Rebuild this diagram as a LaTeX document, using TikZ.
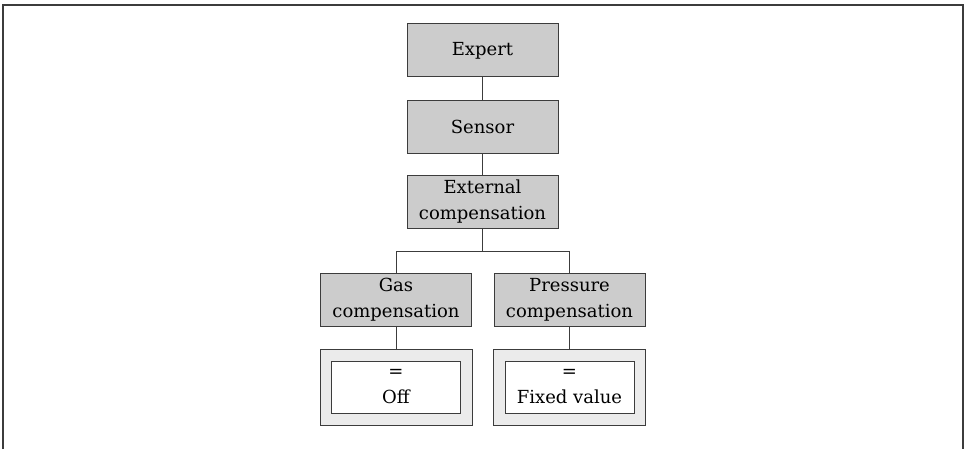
\documentclass[tikz,border=0pt]{standalone}
\usepackage{fontspec}
\setmainfont{DejaVu Serif}
\usetikzlibrary{positioning}
\definecolor{boxgray}{HTML}{CCCCCC}
\definecolor{valgray}{HTML}{EBEBEB}
\definecolor{linegray}{HTML}{3C3C3C}
\tikzset{
  menu/.style={draw=linegray, fill=boxgray, line width=0.5pt, minimum width=75.5pt, minimum height=26.5pt, align=center, inner sep=0pt, font=\fontsize{9}{13}\selectfont},
  valframe/.style={draw=linegray, fill=valgray, line width=0.5pt, minimum width=76pt, minimum height=38pt, inner sep=0pt},
  valbox/.style={draw=linegray, fill=white, line width=0.5pt, minimum width=64.5pt, minimum height=26pt, align=center, inner sep=0pt, font=\fontsize{9}{13}\selectfont},
  link/.style={draw=linegray, line width=0.5pt}
}

\begin{document}
\begin{tikzpicture}[x=0.5pt,y=-0.5pt,node distance=38pt,on grid]
\useasboundingbox (0,0) rectangle (967,449);
% outer frame, open at the bottom
\draw[linegray, line width=0.75pt] (3,449) -- (3,5) -- (963,5) -- (963,449);

\node[menu]		(expert)						at (482.5,50.5)		{Expert};
\node[menu]		(sensor)		[below=of expert]						{Sensor};
\node[menu]		(extcomp)		[below=37.5pt of sensor]				{External\\compensation};
\node[menu]		(gascomp)		[below left=49.25pt and 43.25pt of extcomp]	{Gas\\compensation};
\node[menu]		(prescomp)		[below right=49.25pt and 43.5pt of extcomp]	{Pressure\\compensation};
\node[valframe]	(gasframe)		[below=43.5pt of gascomp]				{};
\node[valbox]	(gasval)		at (gasframe.center)					{=\\Off};
\node[valframe]	(presframe)		[below=43.5pt of prescomp]				{};
\node[valbox]	(presval)		at (presframe.center)					{=\\Fixed value};

\coordinate (split) at (extcomp.south |- 0,251);
\path[link]
(expert)		edge	(sensor)
(sensor)		edge	(extcomp)
(gascomp)		edge	(gasframe)
(prescomp)		edge	(presframe);
\draw[link] (extcomp.south) -- (split) -| (gascomp.north);
\draw[link] (split) -| (prescomp.north);
\end{tikzpicture}
\end{document}
